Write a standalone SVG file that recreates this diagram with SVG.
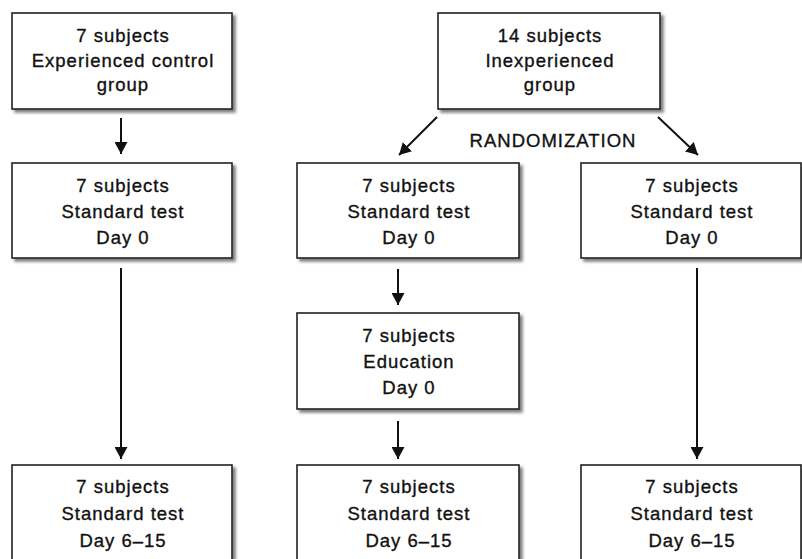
<svg xmlns="http://www.w3.org/2000/svg" width="802" height="559" viewBox="0 0 802 559">
<style>
.box rect{fill:#fff;stroke:#222;stroke-width:1.6;filter:url(#sh)}
.box text, .lbl{font-family:"Liberation Sans",Arial,Helvetica,sans-serif;font-size:18.5px;fill:#111;stroke:#111;stroke-width:0.35;text-anchor:middle;letter-spacing:1px}
.conn line{stroke:#111;stroke-width:2;fill:none;marker-end:url(#ah)}
</style>
<defs>
<filter id="sh" x="-10%" y="-10%" width="125%" height="130%">
<feDropShadow dx="3" dy="3" stdDeviation="1.6" flood-color="#555" flood-opacity="0.75"/>
</filter>
<marker id="ah" markerUnits="userSpaceOnUse" markerWidth="13" markerHeight="13" refX="12" refY="6.5" orient="auto" viewBox="0 0 13 13">
<path d="M0,0 L12,6.5 L0,13 z" fill="#111"/>
</marker>
</defs>
<rect width="802" height="559" fill="#fff"/>

<g id="exp_control" class="box">
<rect x="12" y="13" width="220" height="96"/>
<text x="123" y="42">7 subjects</text>
<text x="123" y="67">Experienced control</text>
<text x="123" y="91">group</text>
</g>

<g id="inexperienced" class="box">
<rect x="438" y="13" width="222" height="96"/>
<text x="550" y="42">14 subjects</text>
<text x="550" y="67">Inexperienced</text>
<text x="550" y="91">group</text>
</g>

<g id="ctrl_day0" class="box">
<rect x="12" y="163" width="220" height="95"/>
<text x="123" y="192">7 subjects</text>
<text x="123" y="218">Standard test</text>
<text x="123" y="244">Day 0</text>
</g>

<g id="edu_day0" class="box">
<rect x="297" y="163" width="222" height="95"/>
<text x="409" y="192">7 subjects</text>
<text x="409" y="218">Standard test</text>
<text x="409" y="244">Day 0</text>
</g>

<g id="noedu_day0" class="box">
<rect x="581" y="163" width="220" height="95"/>
<text x="692" y="192">7 subjects</text>
<text x="692" y="218">Standard test</text>
<text x="692" y="244">Day 0</text>
</g>

<g id="education" class="box">
<rect x="297" y="313" width="222" height="96"/>
<text x="409" y="342">7 subjects</text>
<text x="409" y="368">Education</text>
<text x="409" y="394">Day 0</text>
</g>

<g id="ctrl_final" class="box">
<rect x="12" y="465" width="220" height="110"/>
<text x="123" y="493">7 subjects</text>
<text x="123" y="520">Standard test</text>
<text x="123" y="547">Day 6–15</text>
</g>

<g id="edu_final" class="box">
<rect x="297" y="465" width="222" height="110"/>
<text x="409" y="493">7 subjects</text>
<text x="409" y="520">Standard test</text>
<text x="409" y="547">Day 6–15</text>
</g>

<g id="noedu_final" class="box">
<rect x="581" y="465" width="220" height="110"/>
<text x="692" y="493">7 subjects</text>
<text x="692" y="520">Standard test</text>
<text x="692" y="547">Day 6–15</text>
</g>

<text class="lbl" x="553" y="147">RANDOMIZATION</text>

<g id="connectors" class="conn">
<line x1="121" y1="118" x2="121" y2="154"/>
<line x1="437" y1="117" x2="399" y2="155"/>
<line x1="658" y1="117" x2="698" y2="155"/>
<line x1="121" y1="268" x2="121" y2="459"/>
<line x1="398" y1="269" x2="398" y2="305"/>
<line x1="697" y1="268" x2="697" y2="459"/>
<line x1="398" y1="421" x2="398" y2="459"/>
</g>
</svg>
